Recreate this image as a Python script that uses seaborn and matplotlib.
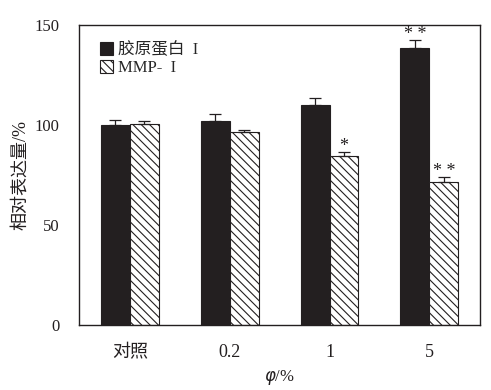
import numpy as np
import pandas as pd
import matplotlib
matplotlib.use('Agg')
import matplotlib.pyplot as plt
import seaborn as sns

# data
categories = ['对照', '0.2', '1', '5']
collagen = [100, 102, 110, 138.5]
collagen_err = [2.5, 3.5, 3.5, 4]
mmp = [100.5, 96.5, 84.5, 71.5]
mmp_err = [1.5, 1, 2, 2.5]
series = ['胶原蛋白  I', 'MMP-  I']
marks_col = ['', '', '', '* *']
marks_mmp = ['', '', '*', '* *']

sns.set_theme(style='white')
plt.rcParams['font.family'] = ['Liberation Serif', 'Noto Sans CJK SC']
plt.rcParams['hatch.linewidth'] = 0.8

df = pd.DataFrame({
    'cat': categories * 2,
    'val': collagen + mmp,
    'grp': [series[0]] * 4 + [series[1]] * 4,
})

ink = '#231f20'
fig = plt.figure(figsize=(4.91, 3.90), dpi=100)
ax = fig.add_axes([0.161, 0.167, 0.817, 0.769])

sns.barplot(data=df, x='cat', y='val', hue='grp', order=categories,
            hue_order=series, palette=[ink, 'white'], width=0.58,
            edgecolor=ink, linewidth=0.8, saturation=1, ax=ax,
            errorbar=None)

n = len(categories)
patches = ax.patches[:2 * n]
errs = collagen_err + mmp_err
vals = collagen + mmp
marks = marks_col + marks_mmp
for i, p in enumerate(patches):
    if i >= n:
        p.set_hatch('\\\\\\\\')
    xc = p.get_x() + p.get_width() / 2
    ax.errorbar(xc, vals[i], yerr=[[0], [errs[i]]], fmt='none',
                ecolor=ink, elinewidth=0.9, capsize=4, capthick=0.9)
    if marks[i]:
        ax.text(xc, vals[i] + errs[i] + 0.5, marks[i], ha='center',
                va='baseline', fontsize=13, color=ink)

ax.set_xlim(-0.51, 3.51)
ax.set_ylim(0, 150)
ax.set_yticks([0, 50, 100, 150])
ax.tick_params(axis='both', length=0, colors=ink)
ax.tick_params(axis='y', pad=14, labelsize=12)
ax.tick_params(axis='x', pad=14, labelsize=13)
for s in ax.spines.values():
    s.set_color(ink)
    s.set_linewidth(1)
ax.set_xlabel('$\\varphi$/%', fontsize=12, color=ink, labelpad=5)
ax.set_ylabel('相对表达量/%', fontsize=13, color=ink, labelpad=4)

leg = ax.legend(loc='upper left', bbox_to_anchor=(0.035, 0.965), frameon=False,
                fontsize=12, handlelength=0.8, handleheight=0.8,
                handletextpad=0.3, labelspacing=0.1, borderaxespad=0)
for h in leg.legend_handles:
    h.set_edgecolor(ink)
leg.legend_handles[1].set_hatch('\\\\\\\\')

fig.savefig('out.png', dpi=100)
